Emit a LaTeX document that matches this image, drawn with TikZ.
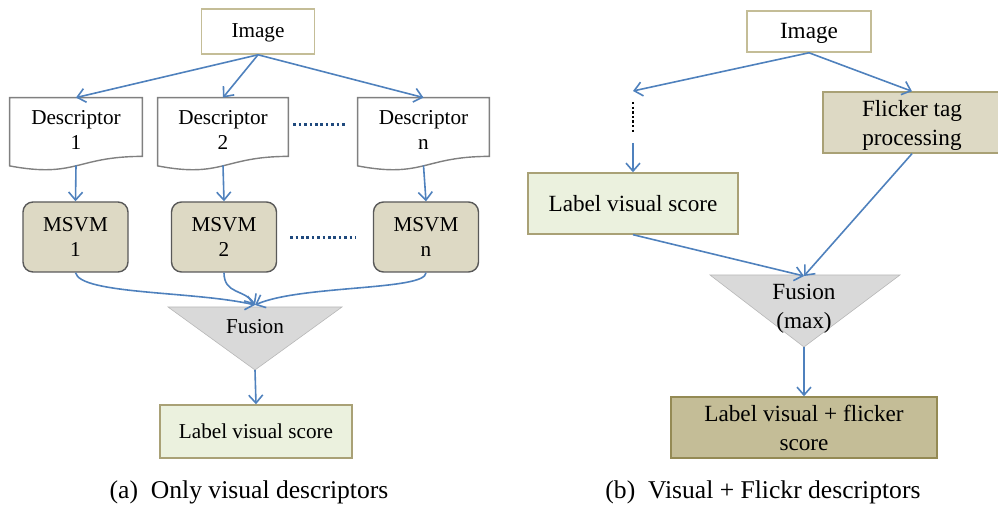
\documentclass[tikz,border=0pt]{standalone}
\usepackage{fontspec}
\setmainfont{Liberation Serif}
\usetikzlibrary{arrows.meta,calc,shadows}
\definecolor{fl-blue}{HTML}{4F81BD}
\definecolor{fl-navy}{HTML}{1F497D}
\definecolor{fl-tan}{HTML}{C4BD97}
\definecolor{fl-olive}{HTML}{948A54}
\definecolor{fl-sand}{HTML}{DDD9C4}
\definecolor{fl-green}{HTML}{EBF1DE}
\definecolor{fl-gray}{HTML}{D9D9D9}

\begin{document}
\begin{tikzpicture}[x=0.5pt,y=-0.5pt,
    fsa/.style={font=\fontsize{10.6}{12.5}\selectfont},
    fsb/.style={font=\fontsize{11.6}{14.5}\selectfont},
    flow/.style={-{Straight Barb[length=4pt,width=7pt]}, fl-blue, line width=0.8pt},
    imgbox/.style={draw=fl-tan, fill=white, line width=0.8pt, text depth=1pt},
    docbox/.style={align=center, minimum height=29pt, inner sep=0pt},
    docline/.style={draw=gray, fill=white, line width=0.7pt},
    msvmbox/.style={draw=black!65, fill=fl-sand, rounded corners=5pt, line width=0.7pt,
        minimum width=52.5pt, minimum height=35pt, align=center},
    shade/.style={drop shadow={shadow xshift=0.6pt, shadow yshift=-0.7pt, opacity=0.18, fill=black}},
    scorebox/.style={draw=fl-olive!80, fill=fl-green, line width=0.7pt, shade},
    dotsline/.style={fl-navy, line width=1.5pt, dash pattern=on 1.3pt off 1.4pt},
    fusetri/.style={fill=fl-gray, draw=fl-gray!85!black, line width=0.3pt}]
    \useasboundingbox (0,0) rectangle (998,506);

    % (a) only visual descriptors
    \node[imgbox, fsa, minimum width=56.5pt, minimum height=22.5pt] (imgA) at (258,31.5) {Image};
    \node[docbox, fsa, minimum width=66pt] (desc1) at (76,127) {};
    \node[docbox, fsa, minimum width=65pt] (desc2) at (223,127) {};
    \node[docbox, fsa, minimum width=65.5pt] (descn) at (423.5,127) {};
    \foreach \d in {desc1,desc2,descn}
        \draw[docline] (\d.north west) -- (\d.north east) -- (\d.south east)
            .. controls (\d.south) and ($(\d.south)+(0,22)$) .. ($(\d.south west)+(0,9.5)$) -- cycle;
    \node[fsa, align=center] at ($(desc1)+(0,3)$) {Descriptor\\1};
    \node[fsa, align=center] at ($(desc2)+(0,3)$) {Descriptor\\2};
    \node[fsa, align=center] at ($(descn)+(0,3)$) {Descriptor\\n};
    \draw[dotsline] ($(desc2.east)+(5,-2)$) -- ($(descn.west)+(-11,-2)$);

    \node[msvmbox, fsa] (msvm1) at (75.5,237) {MSVM\\1};
    \node[msvmbox, fsa] (msvm2) at (224,237) {MSVM\\2};
    \node[msvmbox, fsa] (msvmn) at (426,237) {MSVM\\n};
    \draw[dotsline] ($(msvm2.east)+(13,1)$) -- ($(msvmn.west)+(-17,1)$);

    \coordinate (fusAin) at (255,305);
    \coordinate (fusAtip) at (255,370);
    \draw[fusetri] (168,307) -- (342,307) -- (fusAtip) -- cycle;
    \node[fsa] (fusA) at (255,327) {Fusion};

    \node[scorebox, fsa, minimum width=96pt, minimum height=26.5pt] (scoreA) at (256,431.5) {Label visual score};

    \draw[flow] (imgA.south) -- (desc1.north);
    \draw[flow] (imgA.south) -- (desc2.north);
    \draw[flow] (imgA.south) -- (descn.north);
    \draw[flow] ($(desc1.south)+(0,9)$) -- (msvm1.north);
    \draw[flow] ($(desc2.south)+(0,9)$) -- (msvm2.north);
    \draw[flow] ($(descn.south)+(0,9)$) -- (msvmn.north);
    \draw[flow] (msvm1.south) .. controls ($(msvm1.south)+(5,22)$) and ($(fusAin)+(-60,-14)$) .. (fusAin);
    \draw[flow] (msvm2.south) .. controls ($(msvm2.south)+(0,22)$) and ($(fusAin)+(-10,-16)$) .. (fusAin);
    \draw[flow] (msvmn.south) .. controls ($(msvmn.south)+(0,18)$) and ($(fusAin)+(45,-20)$) .. (fusAin);
    \draw[flow] (fusAtip) -- (scoreA.north);

    \node[font=\fontsize{12.8}{15}\selectfont] (capA) at (249,492) {(a)\enskip Only visual descriptors};

    % (b) visual + flickr descriptors
    \node[imgbox, fsb, minimum width=62pt, minimum height=20.5pt] (imgB) at (809,31.5) {Image};
    \coordinate (visB) at (633,91);
    \node[scorebox, fsb, minimum width=105pt, minimum height=30.5pt] (scoreB) at (633,203.5) {Label visual score};
    \node[draw=fl-olive!80, fill=fl-sand, line width=0.7pt, shade,
        minimum width=89pt, minimum height=30.5pt] (flickr) at (912,122.5) {};
    \node[fsb, align=center] at ($(flickr)+(0,3)$) {Flicker tag\\processing};
    \draw[black, line width=1.3pt, dash pattern=on 1.2pt off 1.1pt] ($(visB)+(0,11)$) -- ($(visB)+(0,42)$);

    \coordinate (fusBin) at (804,276);
    \coordinate (fusBtip) at (804,347);
    \draw[fusetri] (710,275) -- (900,275) -- (fusBtip) -- cycle;
    \node[fsb, align=center] (fusB) at (804,309) {Fusion\\(max)};

    \node[draw=fl-olive, fill=fl-tan, line width=0.7pt, shade, fsb, align=center,
        minimum width=133pt, minimum height=30.5pt] (final) at (804,427.5) {Label visual + flicker\\score};

    \draw[flow] (imgB.south) -- (visB);
    \draw[flow] (imgB.south) -- (flickr.north);
    \draw[flow] ($(visB)+(0,52)$) -- (scoreB.north);
    \draw[flow] (scoreB.south) -- (fusBin);
    \draw[flow] (flickr.south) -- (fusBin);
    \draw[flow] (fusBtip) -- (final.north);

    \node[font=\fontsize{12.8}{15}\selectfont] (capB) at (763,492) {(b)\enskip Visual + Flickr descriptors};
\end{tikzpicture}
\end{document}
